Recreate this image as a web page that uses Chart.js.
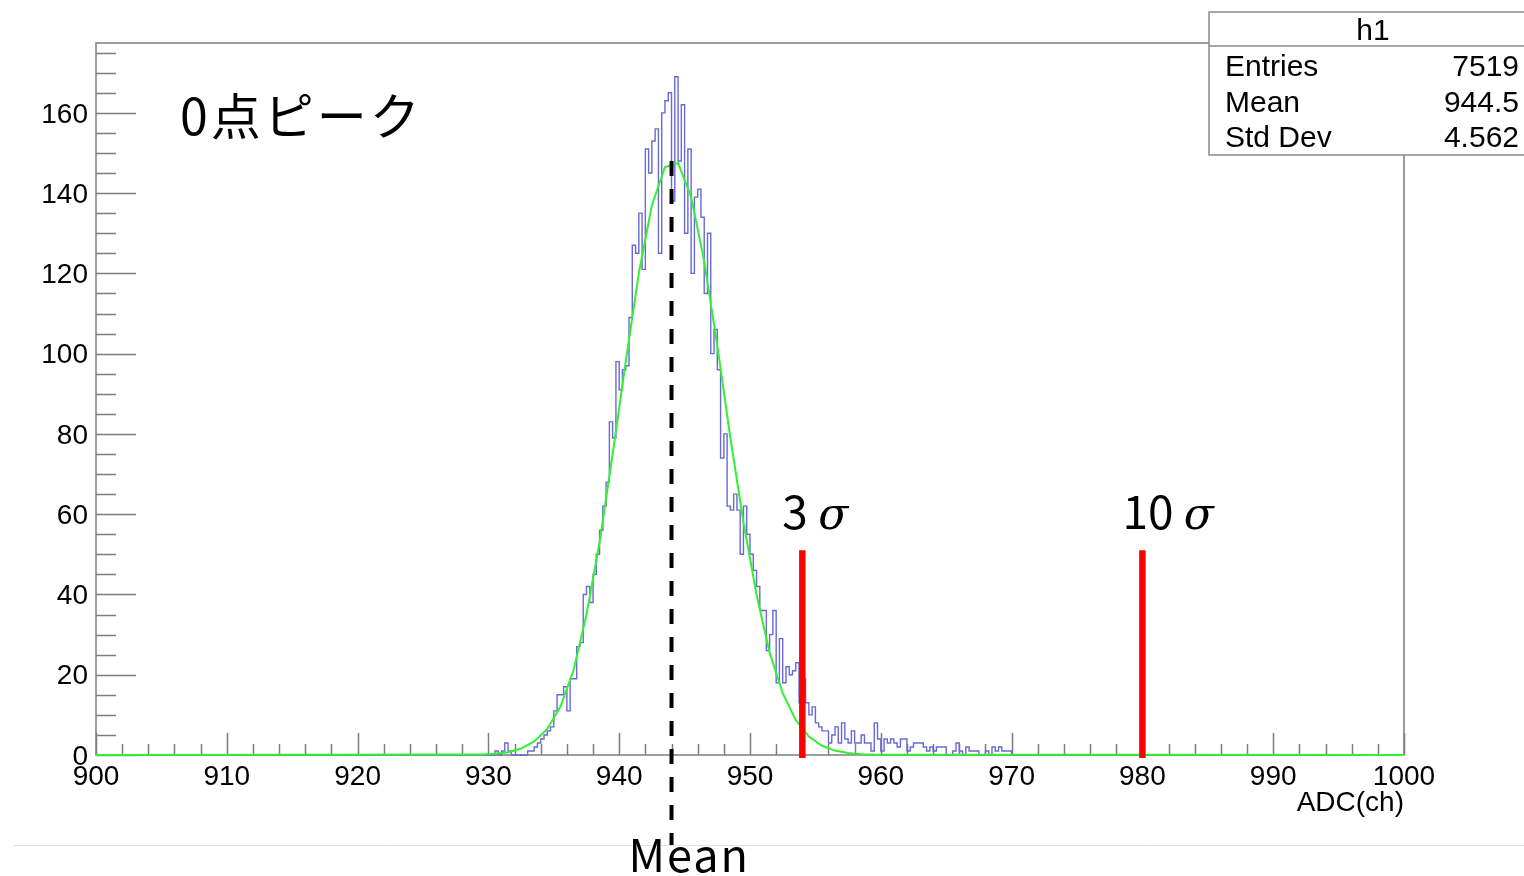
<!DOCTYPE html>
<html>
<head>
<meta charset="utf-8">
<script src="https://cdn.jsdelivr.net/npm/chart.js@4.4.1/dist/chart.umd.min.js"></script>
<style>
  body { margin: 0; background: #fff; }
  canvas { display: block; }
</style>
</head>
<body>
<canvas id="canvas" width="1524" height="876"></canvas>
<script>
// h1 : ADC spectrum, 0.25 ch bins. Only 930-970 ch has entries.
const binStart = 930;
const binWidth = 0.25;
const binCounts = [
  0, 0, 1, 0, 1, 3, 1, 0, 0, 0, 0, 0, 1, 1, 2, 3, 4, 5, 6, 7,
  11, 15, 15, 17, 11, 19, 19, 27, 28, 40, 42, 38, 45, 50, 56, 62, 68, 83, 79, 98,
  91, 96, 97, 109, 127, 125, 135, 121, 151, 145, 153, 156, 125, 160, 163, 165, 138, 169, 148, 162,
  130, 151, 120, 139, 141, 134, 115, 130, 100, 106, 96, 74, 80, 62, 61, 65, 61, 50, 62, 55,
  50, 46, 42, 36, 36, 26, 30, 36, 18, 29, 18, 22, 20, 21, 23, 13, 19, 13, 10, 12,
  8, 7, 6, 6, 3, 5, 7, 3, 8, 4, 3, 6, 3, 3, 5, 3, 3, 1, 8, 4,
  1, 4, 3, 4, 3, 2, 4, 4, 1, 2, 3, 3, 3, 2, 1, 2, 1, 2, 2, 2,
  0, 0, 1, 3, 1, 0, 2, 1, 1, 1, 0, 0, 1, 0, 2, 1, 2, 1, 1, 1,
];

// gaus fit, sampled every 1 ch from 928.5 to 959.5 (zero elsewhere)
const fitStart = 928.5;
const fitValues = [
  0.1, 0.1, 0.3, 0.7, 1.6, 3.4, 6.5, 12, 21, 35, 53, 75, 98, 120, 137, 146.5,
  147.5, 139, 123, 102, 79, 58, 40, 25.5, 15.4, 8.7, 4.6, 2.3, 1.1, 0.5, 0.2, 0.1,
];

const xRange = [900, 1000];
const yMax = 177.4;
const xTickValues = [900, 910, 920, 930, 940, 950, 960, 970, 980, 990, 1000];
const yTickValues = [0, 20, 40, 60, 80, 100, 120, 140, 160];

const statNames = ["Entries", "Mean", "Std Dev"];
const statValues = ["7519", "944.5", "4.562"];

// annotation marks
const meanX = 944.0;
const meanTop = 148;
const sigmaX = [954, 980];
const sigmaTop = 51;
const sigmaText = ["3", "10"];

const histPoints = [{ x: xRange[0], y: 0 }];
binCounts.forEach((c, i) => histPoints.push({ x: binStart + i * binWidth, y: c }));
histPoints.push({ x: binStart + binCounts.length * binWidth, y: 0 });
histPoints.push({ x: xRange[1], y: 0 });

const fitPoints = [{ x: xRange[0], y: 0 }];
fitValues.forEach((v, i) => fitPoints.push({ x: fitStart + i, y: v }));
fitPoints.push({ x: xRange[1], y: 0 });

const JP = '"Noto Sans CJK JP", sans-serif';

const rootFrame = {
  id: "rootFrame",
  beforeDatasetsDraw(chart) {
    const ctx = chart.ctx;
    const { left, right, top, bottom } = chart.chartArea;
    const xs = chart.scales.x;
    const ys = chart.scales.y;
    ctx.save();
    ctx.strokeStyle = "#7d7d7d";
    ctx.lineWidth = 1.5;
    ctx.strokeRect(left, top, right - left, bottom - top);

    ctx.beginPath();
    for (let v = xRange[0]; v <= xRange[1]; v += 2) {
      const px = Math.round(xs.getPixelForValue(v)) + 0.5;
      const len = v % 10 === 0 ? 22 : 11;
      ctx.moveTo(px, bottom);
      ctx.lineTo(px, bottom - len);
    }
    for (let v = 0; v <= yMax; v += 5) {
      const py = Math.round(ys.getPixelForValue(v)) + 0.5;
      const len = v % 20 === 0 ? 40 : 20;
      ctx.moveTo(left, py);
      ctx.lineTo(left + len, py);
    }
    ctx.stroke();
    ctx.restore();
  },
  afterDraw(chart) {
    const ctx = chart.ctx;
    const { left, right, top, bottom } = chart.chartArea;
    const xs = chart.scales.x;
    const ys = chart.scales.y;
    ctx.save();

    // axis title
    ctx.fillStyle = "#000";
    ctx.font = '28px "Liberation Sans"';
    ctx.textAlign = "right";
    ctx.textBaseline = "alphabetic";
    ctx.fillText("ADC(ch)", right, bottom + 56);

    // page edge line
    ctx.strokeStyle = "#e2e2e2";
    ctx.lineWidth = 1;
    ctx.beginPath();
    ctx.moveTo(14, 845.5);
    ctx.lineTo(chart.width, 845.5);
    ctx.stroke();

    // stats box
    const bx = 1209, by = 12, bh = 143;
    ctx.fillStyle = "#fff";
    ctx.fillRect(bx, by, chart.width - bx + 10, bh);
    ctx.strokeStyle = "#8a8a8a";
    ctx.lineWidth = 1.5;
    ctx.strokeRect(bx, by, chart.width - bx + 10, bh);
    ctx.beginPath();
    ctx.moveTo(bx, by + 34);
    ctx.lineTo(chart.width, by + 34);
    ctx.stroke();
    ctx.fillStyle = "#000";
    ctx.font = '30px "Liberation Sans"';
    ctx.textBaseline = "middle";
    ctx.textAlign = "center";
    ctx.fillText("h1", 1373, by + 20);
    statNames.forEach((name, i) => {
      const y = by + 56 + i * 35.5;
      ctx.textAlign = "left";
      ctx.fillText(name, bx + 16, y);
      ctx.textAlign = "right";
      ctx.fillText(statValues[i], chart.width - 5, y);
    });

    // peak label
    ctx.font = "50px " + JP;
    ctx.letterSpacing = "3px";
    ctx.textAlign = "left";
    ctx.textBaseline = "middle";
    ctx.fillText("0点ピーク", left + 84, top + 73);

    // mean line
    const mx = xs.getPixelForValue(meanX);
    ctx.strokeStyle = "#000";
    ctx.lineWidth = 4;
    ctx.setLineDash([15, 13]);
    ctx.beginPath();
    ctx.moveTo(mx, ys.getPixelForValue(meanTop));
    ctx.lineTo(mx, bottom + 90);
    ctx.stroke();
    ctx.setLineDash([]);
    ctx.font = "45px " + JP;
    ctx.letterSpacing = "2px";
    ctx.textAlign = "left";
    ctx.textBaseline = "alphabetic";
    ctx.fillText("Mean", mx - 43, bottom + 117);
    ctx.letterSpacing = "0px";

    // sigma lines
    sigmaX.forEach((v, i) => {
      const sx = xs.getPixelForValue(v);
      const ty = ys.getPixelForValue(sigmaTop);
      ctx.strokeStyle = "#ff0000";
      ctx.lineWidth = 6.5;
      ctx.beginPath();
      ctx.moveTo(sx, ty);
      ctx.lineTo(sx, bottom + 3);
      ctx.stroke();

      ctx.fillStyle = "#000";
      ctx.textAlign = "left";
      ctx.font = "46px " + JP;
      const label = sigmaText[i] + " ";
      const x0 = sx - 20;
      ctx.fillText(label, x0, ty - 21);
      const w = ctx.measureText(label).width;
      ctx.font = 'italic 44px "DejaVu Serif"';
      ctx.fillText("σ", x0 + w, ty - 21);
    });
    ctx.restore();
  },
};

const config = {
  type: "line",
  data: {
    datasets: [
      {
        label: "fit",
        data: fitPoints,
        borderColor: "rgb(50, 240, 50)",
        borderWidth: 2,
        pointRadius: 0,
        tension: 0,
        fill: false,
        clip: false,
        order: 0,
      },
      {
        label: "h1",
        data: histPoints,
        stepped: "before",
        borderColor: "rgb(105, 105, 215)",
        borderWidth: 1.4,
        pointRadius: 0,
        fill: false,
        clip: false,
        order: 1,
      },
    ],
  },
  options: {
    responsive: false,
    animation: false,
    devicePixelRatio: 1,
    layout: {
      padding: { left: 0, top: 43, right: 120, bottom: 0 },
    },
    plugins: {
      legend: { display: false },
      tooltip: { enabled: false },
      title: { display: false },
    },
    scales: {
      x: {
        type: "linear",
        min: xRange[0],
        max: xRange[1],
        grid: { display: false, drawTicks: false },
        border: { display: false },
        afterBuildTicks: (s) => { s.ticks = xTickValues.map((v) => ({ value: v })); },
        afterFit: (s) => { s.height = 121; },
        ticks: {
          padding: 5,
          maxRotation: 0,
          autoSkip: false,
          color: "#000",
          font: { family: "Liberation Sans", size: 28 },
          callback: (v) => String(v),
        },
      },
      y: {
        type: "linear",
        min: 0,
        max: yMax,
        grid: { display: false, drawTicks: false },
        border: { display: false },
        afterBuildTicks: (s) => { s.ticks = yTickValues.map((v) => ({ value: v })); },
        afterFit: (s) => { s.width = 96; },
        ticks: {
          padding: 8,
          labelOffset: 2,
          color: "#000",
          font: { family: "Liberation Sans", size: 28, lineHeight: 1.0 },
          callback: (v) => String(v),
        },
      },
    },
  },
  plugins: [rootFrame],
};

window.onload = function () {
  const ctx = document.getElementById("canvas").getContext("2d");
  new Chart(ctx, config);
};
</script>
</body>
</html>
